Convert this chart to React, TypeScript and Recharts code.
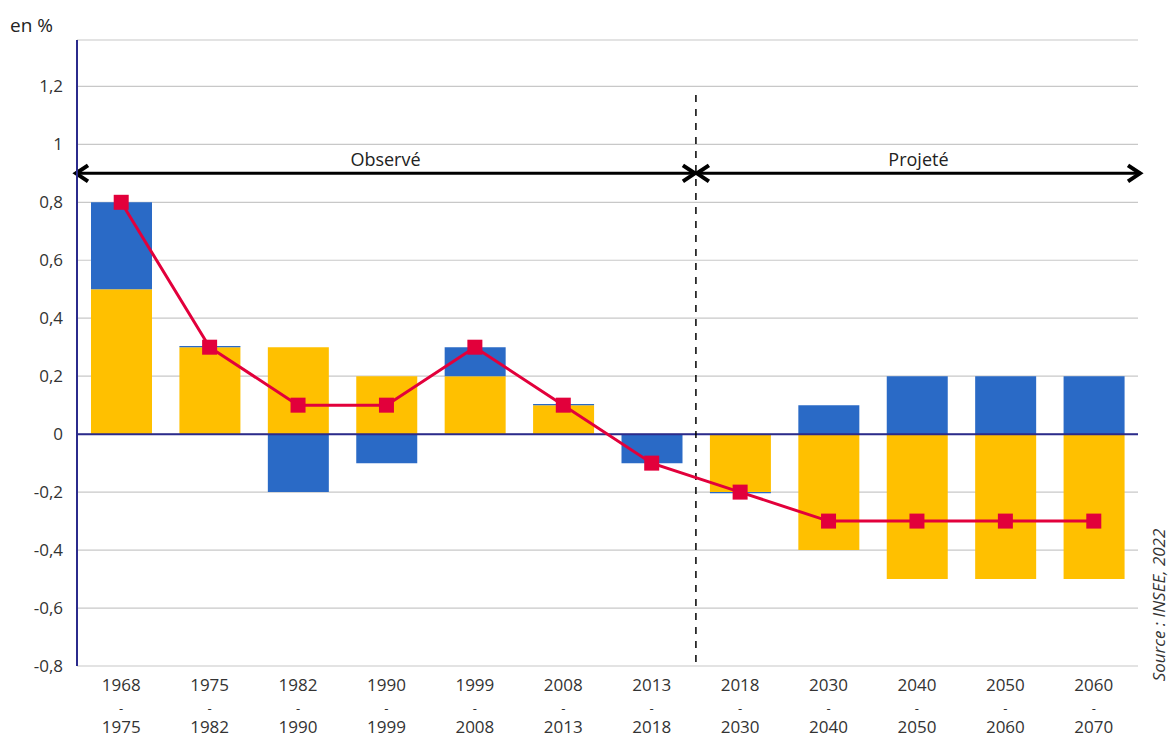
import React from "react";
import { ComposedChart, Bar, Line, XAxis, YAxis, CartesianGrid, ReferenceLine } from "recharts";

document.body.style.margin = "0";

// periods
const periods = [
  "1968-1975", "1975-1982", "1982-1990", "1990-1999", "1999-2008", "2008-2013",
  "2013-2018", "2018-2030", "2030-2040", "2040-2050", "2050-2060", "2060-2070",
];
// yellow part
const soldeNaturel = [0.5, 0.3, 0.3, 0.2, 0.2, 0.1, 0, -0.2, -0.4, -0.5, -0.5, -0.5];
// blue part
const soldeMigratoire = [0.3, 0.004, -0.2, -0.1, 0.1, 0.004, -0.1, -0.004, 0.1, 0.2, 0.2, 0.2];
// red line
const total = [0.8, 0.3, 0.1, 0.1, 0.3, 0.1, -0.1, -0.2, -0.3, -0.3, -0.3, -0.3];
const yTicks = [-0.8, -0.6, -0.4, -0.2, 0, 0.2, 0.4, 0.6, 0.8, 1, 1.2];

const FONT = "'Open Sans', sans-serif";
const NAVY = "#2B2B8C";
const RED = "#E2003B";

const data = periods.map((p, i) => ({
  period: p,
  naturel: soldeNaturel[i],
  migratoire: soldeMigratoire[i],
  total: total[i],
}));

function PeriodTick(props: any) {
  const { x, y, payload } = props;
  const [a, b] = String(payload.value).split("-");
  return (
    <g fill="#333" fontFamily={FONT} textAnchor="middle">
      <text x={x} y={y + 17} fontSize={17}>{a}</text>
      <text x={x} y={y + 39} fontSize={13}>-</text>
      <text x={x} y={y + 59} fontSize={17}>{b}</text>
    </g>
  );
}

function SquareDot(props: any) {
  const { cx, cy } = props;
  if (cx == null || cy == null) return null;
  return <rect x={cx - 7.5} y={cy - 7.5} width={15} height={15} fill={RED} />;
}

// segment from first category at 0.9 to last category at -0.8: gives scales in pixels
function PeriodMarkers(props: any) {
  const { x1, y1, x2, y2 } = props;
  if (x1 == null || x2 == null) return null;
  const band = (x2 - x1) / 11;
  const left = x1 - band / 2 - 2;
  const split = x1 + band * 6.5;
  const right = x2 + band / 2 + 3;
  const y = y1;
  const unit = (y2 - y1) / 1.7;
  const yTop = y1 - unit * 0.27;
  const h = 8;
  const w = 13;
  const arrow = (a: number, b: number, label: string) => (
    <g>
      <line x1={a} y1={y} x2={b} y2={y} stroke="#000" strokeWidth={3} />
      <path d={`M${a + w},${y - h} L${a + 1},${y} L${a + w},${y + h}`} fill="none" stroke="#000" strokeWidth={4} />
      <path d={`M${b - w},${y - h} L${b - 1},${y} L${b - w},${y + h}`} fill="none" stroke="#000" strokeWidth={4} />
      <text x={(a + b) / 2} y={y - 7} textAnchor="middle" fill="#222" fontSize={18} fontFamily={FONT}>{label}</text>
    </g>
  );
  return (
    <g>
      <line x1={split} y1={yTop} x2={split} y2={y2} stroke="#000" strokeWidth={1.5} strokeDasharray="7 7" />
      {arrow(left, split, "Observé")}
      {arrow(split, right, "Projeté")}
    </g>
  );
}

export default function App() {
  return (
    <div style={{ position: "relative", width: 1172, height: 738, background: "#fff", fontFamily: FONT }}>
      <div style={{ position: "absolute", left: 10, top: 12, fontSize: 19, color: "#222" }}>en %</div>
      <ComposedChart
        width={1172}
        height={738}
        data={data}
        stackOffset="sign"
        barCategoryGap={0}
        margin={{ top: 40, right: 34, left: 0, bottom: 0 }}
        style={{ position: "absolute", left: 0, top: 0 }}
      >
        <CartesianGrid vertical={false} stroke="#C8C8C8" strokeWidth={1.2} />
        <XAxis
          dataKey="period"
          tick={<PeriodTick />}
          tickLine={false}
          axisLine={false}
          interval={0}
          height={72}
        />
        <YAxis
          width={77}
          domain={[-0.8, 1.36]}
          ticks={yTicks}
          allowDataOverflow
          tickLine={false}
          axisLine={{ stroke: NAVY, strokeWidth: 2 }}
          tickMargin={8}
          tick={{ fill: "#333", fontSize: 17, fontFamily: FONT }}
          tickFormatter={(v: number) => String(Math.round(v * 10) / 10).replace(".", ",")}
        />
        <Bar dataKey="naturel" stackId="a" fill="#FFC000" barSize={61} isAnimationActive={false} />
        <Bar dataKey="migratoire" stackId="a" fill="#2A6AC6" barSize={61} isAnimationActive={false} />
        <ReferenceLine y={0} stroke={NAVY} strokeWidth={2} />
        <ReferenceLine
          segment={[{ x: periods[0], y: 0.9 }, { x: periods[periods.length - 1], y: -0.8 }]}
          shape={<PeriodMarkers />}
          ifOverflow="visible"
        />
        <Line
          dataKey="total"
          stroke={RED}
          strokeWidth={3}
          dot={<SquareDot />}
          activeDot={false}
          isAnimationActive={false}
        />
        <text
          x={1158}
          y={605}
          transform="rotate(-90 1158 605)"
          textAnchor="middle"
          dominantBaseline="central"
          fill="#333"
          fontSize={17}
          fontStyle="italic"
          fontFamily={FONT}
        >
          Source : INSEE, 2022
        </text>
      </ComposedChart>
    </div>
  );
}
